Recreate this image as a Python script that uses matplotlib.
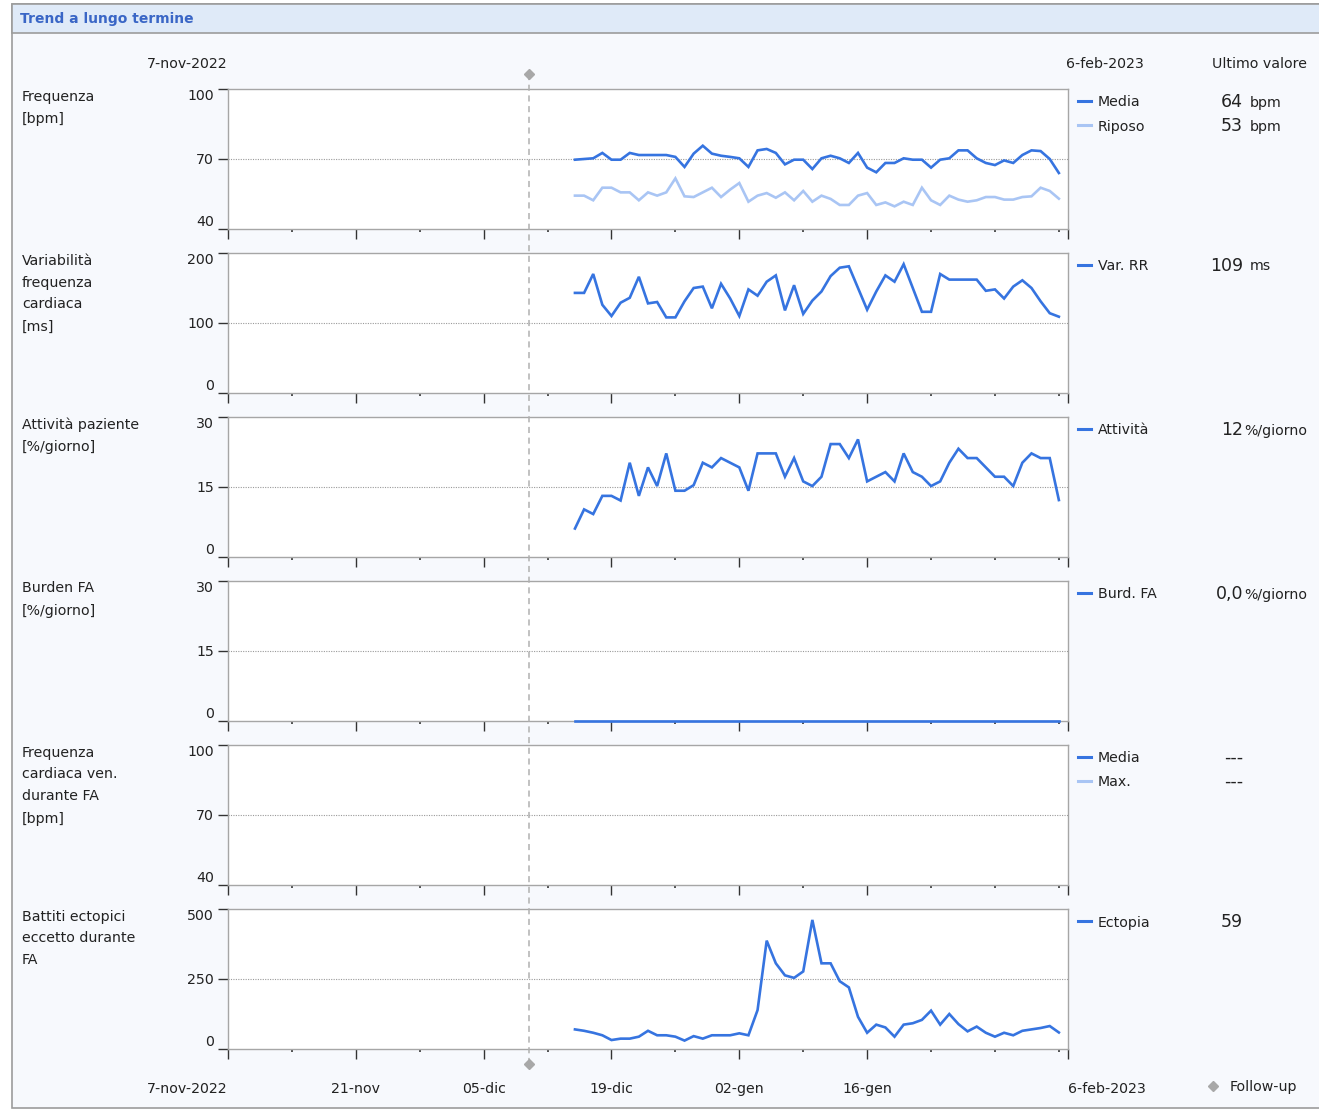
import matplotlib
matplotlib.use('Agg')
import matplotlib.pyplot as plt
from matplotlib.patches import Rectangle
from matplotlib.lines import Line2D
import numpy as np

# ---------------- data ----------------
dates = np.arange(np.datetime64('2022-12-15'), np.datetime64('2023-02-07'))  # 54 daily points
follow_up = np.datetime64('2022-12-10')
x_start = np.datetime64('2022-11-07')
x_end = np.datetime64('2023-02-07')

hr_media = [69.7, 70, 70.3, 72.6, 69.7, 69.7, 72.6, 71.7, 71.7, 71.7, 71.7, 70.9, 66.6, 72.3,
            75.7, 72.3, 71.4, 70.9, 70.3, 66.6, 73.7, 74.3, 72.6, 67.7, 69.7, 69.7, 65.7, 70.3,
            71.4, 70.3, 68.3, 72.6, 66.3, 64.3, 68.3, 68.3, 70.3, 69.7, 69.7, 66.3, 69.7, 70.3,
            73.7, 73.7, 70.3, 68.3, 67.4, 69.4, 68.3, 71.7, 73.7, 73.4, 70.0, 64.0]
hr_riposo = [54.3, 54.3, 52.3, 57.7, 57.7, 55.7, 55.7, 52.3, 55.7, 54.3, 55.7, 61.7, 54.0, 53.7,
             55.7, 57.7, 53.7, 56.9, 59.7, 51.7, 54.3, 55.4, 53.4, 55.7, 52.3, 56.3, 51.7, 54.3,
             52.9, 50.3, 50.3, 54.3, 55.4, 50.3, 51.4, 49.7, 51.7, 50.3, 57.7, 52.3, 50.3, 54.3,
             52.6, 51.7, 52.3, 53.7, 53.7, 52.6, 52.6, 53.7, 54.0, 57.7, 56.3, 53.0]
var_rr = [143, 143, 170, 126, 110, 129, 136, 166, 128, 130, 108, 108, 131, 150, 152, 121, 156,
          135, 110, 148, 139, 159, 168, 118, 154, 113, 132, 145, 167, 179, 181, 150, 119, 145,
          168, 159, 184, 150, 116, 116, 170, 162, 162, 162, 162, 146, 148, 135, 152, 161, 150,
          131, 114, 109]
attivita = [6.1, 10.2, 9.2, 13.1, 13.1, 12.1, 20.2, 13.1, 19.2, 15.2, 22.2, 14.2, 14.2, 15.4,
            20.2, 19.2, 21.2, 20.2, 19.2, 14.2, 22.2, 22.2, 22.2, 17.2, 21.2, 16.2, 15.2, 17.2,
            24.2, 24.2, 21.2, 25.2, 16.2, 17.2, 18.2, 16.2, 22.2, 18.2, 17.2, 15.2, 16.2, 20.2,
            23.2, 21.2, 21.2, 19.2, 17.2, 17.2, 15.2, 20.2, 22.2, 21.2, 21.2, 12.2]
burden_fa = [0.0] * 54
ectopia = [70, 65, 58, 49, 32, 37, 37, 44, 65, 49, 49, 44, 30, 46, 37, 49, 49, 49, 56, 49,
           139, 387, 306, 263, 254, 277, 461, 306, 306, 242, 220, 115, 58, 87, 77, 44, 87, 92,
           104, 137, 87, 125, 89, 63, 80, 58, 44, 58, 49, 65, 70, 75, 82, 59]

panel_titles = [["Frequenza", "[bpm]"],
                ["Variabilità", "frequenza", "cardiaca", "[ms]"],
                ["Attività paziente", "[%/giorno]"],
                ["Burden FA", "[%/giorno]"],
                ["Frequenza", "cardiaca ven.", "durante FA", "[bpm]"],
                ["Battiti ectopici", "eccetto durante", "FA"]]
y_limits = [(40, 100), (0, 200), (0, 30), (0, 30), (40, 100), (0, 500)]
legend_names = [["Media", "Riposo"], ["Var. RR"], ["Attività"], ["Burd. FA"],
                ["Media", "Max."], ["Ectopia"]]
last_numbers = [["64", "53"], ["109"], ["12"], ["0,0"], ["---", "---"], ["59"]]
last_units = [["bpm", "bpm"], ["ms"], ["%/giorno"], ["%/giorno"], ["", ""], [""]]

major_ticks = ['2022-11-07', '2022-11-21', '2022-12-05', '2022-12-19', '2023-01-02',
               '2023-01-16', '2023-02-07']
major_labels = ['7-nov-2022', '21-nov', '05-dic', '19-dic', '02-gen', '16-gen', '6-feb-2023']
minor_ticks = ['2022-11-14', '2022-11-28', '2022-12-12', '2022-12-26', '2023-01-09',
               '2023-01-23', '2023-01-30', '2023-02-06']

# ---------------- style ----------------
DARK = '#3674e0'
LIGHT = '#a9c5f4'
FONT = 'DejaVu Sans'
FS = 10.2
plt.rcParams['font.family'] = [FONT]

W, H = 1319, 1110
fig = plt.figure(figsize=(W / 100, H / 100), dpi=100)
fig.patch.set_facecolor('white')


def fx(x):
    return x / W


def fy(y):
    return 1 - y / H


# frame and title bar
fig.patches.append(Rectangle((fx(12), fy(1108)), fx(1400) - fx(12), fy(4) - fy(1108),
                             transform=fig.transFigure, facecolor='#f7f9fd',
                             edgecolor='#9c9c9c', lw=1.2, zorder=-5))
fig.patches.append(Rectangle((fx(12), fy(33)), fx(1400) - fx(12), fy(4) - fy(33),
                             transform=fig.transFigure, facecolor='#dfeaf8',
                             edgecolor='#9c9c9c', lw=1.2, zorder=-4))
fig.text(fx(20), fy(18), "Trend a lungo termine", color='#3a66c6', fontsize=10,
         fontweight='bold', va='center_baseline', ha='left')

series = [[(hr_media, DARK), (hr_riposo, LIGHT)], [(var_rr, DARK)], [(attivita, DARK)],
          [(burden_fa, DARK)], [], [(ectopia, DARK)]]
legend_colors = [[DARK, LIGHT], [DARK], [DARK], [DARK], [DARK, LIGHT], [DARK]]

tops = [89, 253, 417, 581, 745, 909]
AX_L, AX_R, AX_H = 228, 1068, 140

for i, top in enumerate(tops):
    ax = fig.add_axes([fx(AX_L), fy(top + AX_H), fx(AX_R) - fx(AX_L), AX_H / H])
    ax.set_zorder(1)
    ax.set_facecolor('white')
    ax.set_xlim(x_start, x_end)
    lo, hi = y_limits[i]
    ax.set_ylim(lo, hi)
    mid = (lo + hi) / 2
    ax.axhline(mid, color='#9a9a9a', ls=(0, (1, 1.2)), lw=0.8, zorder=1)
    for vals, col in series[i]:
        ax.plot(dates, vals, color=col, lw=1.9, zorder=3, clip_on=False,
                solid_joinstyle='miter')
    for s in ax.spines.values():
        s.set_color('#a6a6a6')
        s.set_linewidth(1.0)
    ax.set_yticks([lo, mid, hi])
    ylabels = ax.set_yticklabels([f"{int(v)}" for v in (lo, mid, hi)], fontsize=FS,
                                 color='#222222')
    ylabels[0].set_va('bottom')
    ylabels[2].set_va('top')
    ax.tick_params(axis='y', direction='out', length=7, width=1, color='#333333', pad=3)
    ax.set_xticks([np.datetime64(d) for d in major_ticks])
    ax.set_xticks([np.datetime64(d) for d in minor_ticks], minor=True)
    ax.tick_params(axis='x', which='major', direction='out', length=7, width=1,
                   color='#333333', pad=17)
    ax.tick_params(axis='x', which='minor', direction='out', length=2.5, width=1.2,
                   color='#333333')
    if i == len(tops) - 1:
        xl = ax.set_xticklabels(major_labels, fontsize=FS, color='#222222')
        xl[0].set_ha('right')
        xl[-1].set_ha('left')
    else:
        ax.set_xticklabels([])

    # left title
    for j, line in enumerate(panel_titles[i]):
        fig.text(fx(22), fy(top + 6 + 22 * j), line, fontsize=FS, color='#222222',
                 ha='left', va='center_baseline')
    # legend + last values
    for j, name in enumerate(legend_names[i]):
        yy = top + 12 + 24 * j
        fig.lines.append(Line2D([fx(1078), fx(1091)], [fy(yy), fy(yy)],
                                transform=fig.transFigure, color=legend_colors[i][j], lw=2.2))
        fig.text(fx(1098), fy(yy), name, fontsize=FS, color='#222222', ha='left',
                 va='center_baseline')
        num = last_numbers[i][j]
        unit = last_units[i][j]
        fig.text(fx(1243), fy(yy - 1), num, fontsize=12.5, color='#222222', ha='right',
                 va='center_baseline')
        if unit:
            ux = 1244 if unit.startswith('%') else 1250
            fig.text(fx(ux), fy(yy), unit, fontsize=FS, color='#222222', ha='left',
                     va='center_baseline')

# top header labels
fig.text(fx(228), fy(62), "7-nov-2022", fontsize=FS, color='#222222', ha='right',
         va='center_baseline')
fig.text(fx(1066), fy(62), "6-feb-2023", fontsize=FS, color='#222222', ha='left',
         va='center_baseline')
fig.text(fx(1212), fy(62), "Ultimo valore", fontsize=FS, color='#222222', ha='left',
         va='center_baseline')

# follow-up legend
fig.lines.append(Line2D([fx(1213)], [fy(1086)], transform=fig.transFigure, marker='D',
                        markersize=5, color='#a8a8a8', lw=0))
fig.text(fx(1230), fy(1086), "Follow-up", fontsize=FS, color='#222222', ha='left',
         va='center_baseline')

# follow-up overlay line
ov = fig.add_axes([fx(AX_L), fy(1064), fx(AX_R) - fx(AX_L), (1064 - 74) / H])
ov.set_zorder(5)
ov.set_xlim(x_start, x_end)
ov.set_ylim(0, 1)
ov.axis('off')
ov.patch.set_alpha(0)
ov.plot([follow_up, follow_up], [0, 1], color='#b0b0b0', lw=1.1, ls=(0, (4, 3)),
        clip_on=False)
ov.plot([follow_up, follow_up], [0, 1], lw=0, marker='D', markersize=5, color='#a8a8a8',
        clip_on=False)

fig.savefig('out.png', dpi=100, facecolor=fig.get_facecolor())
